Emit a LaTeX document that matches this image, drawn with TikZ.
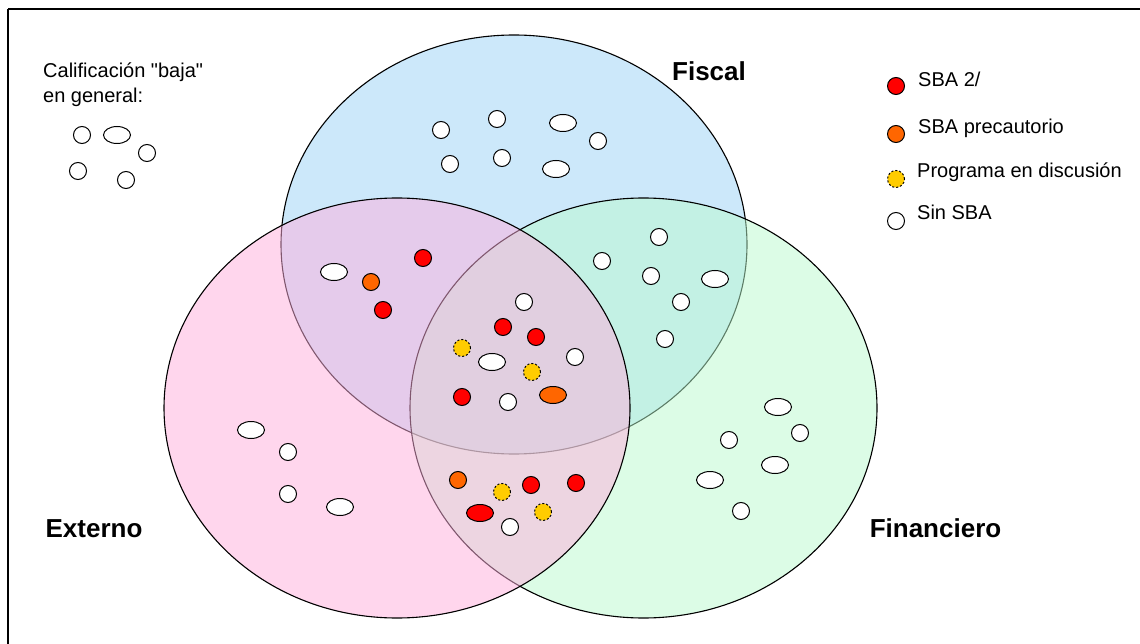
\documentclass[tikz,border=0pt]{standalone}
\usepackage{fontspec}
\setmainfont{Liberation Sans}[Ligatures=TeXOff]
\usetikzlibrary{shapes.geometric}
\definecolor{cblue}{RGB}{155,211,247}
\definecolor{cpink}{RGB}{255,175,221}
\definecolor{cgreen}{RGB}{187,251,207}
\definecolor{cred}{RGB}{255,0,0}
\definecolor{corange}{RGB}{255,102,0}
\definecolor{cyellow}{RGB}{255,204,0}
\tikzset{
  setfill/.style={fill opacity=0.5, draw=black, line width=1.1pt},
  dotbase/.style={ellipse, draw=black, line width=1pt, inner sep=0pt, minimum width=17pt, minimum height=17pt},
  wide/.style={minimum width=27pt},
  sinsba/.style={dotbase, fill=white},
  sbados/.style={dotbase, fill=cred},
  sbaprec/.style={dotbase, fill=corange},
  progdisc/.style={dotbase, fill=cyellow, dash pattern=on 2pt off 2pt},
  biglabel/.style={font=\fontsize{26}{30}\selectfont\bfseries, anchor=base, inner sep=0pt},
  smalllabel/.style={font=\fontsize{20}{24}\selectfont, anchor=base west, inner sep=0pt}
}
\begin{document}
\begin{tikzpicture}[x=1pt, y=-1pt]
\useasboundingbox (0,0) rectangle (1140,644);
\fill[white] (0,0) rectangle (1140,644);
% frame
\draw[line width=2pt] (8,9) -- (1140,9);
\draw[line width=1.8pt] (8,9) -- (8,644);
% sets
\path[setfill, fill=cblue] (514,244.5) ellipse [x radius=233pt, y radius=209.5pt];
\path[setfill, fill=cgreen] (643.5,408) ellipse [x radius=233.5pt, y radius=210pt];
\path[setfill, fill=cpink] (397,408) ellipse [x radius=233pt, y radius=210pt];
% labels
\node[biglabel] (lfiscal) at (709,81) {Fiscal};
\node[biglabel] (lexterno) at (94,537) {Externo};
\node[biglabel] (lfin) at (935.5,537) {Financiero};
\node[smalllabel] (lcal) at (43,78) {Calificación "baja"};
\node[smalllabel] (lgen) at (43,103) {en general:};
% legend
\node[sbados] (k1) at (896,86) {};
\node[sbaprec] (k2) at (896,134) {};
\node[progdisc] (k3) at (896,179) {};
\node[sinsba] (k4) at (896,221) {};
\node[smalllabel] (t1) at (918,87) {SBA 2/};
\node[smalllabel] (t2) at (918,134) {SBA precautorio};
\node[smalllabel] (t3) at (917,178) {Programa en discusión};
\node[smalllabel] (t4) at (917,220) {Sin SBA};
% outside cluster
\node[sinsba] (o1) at (82,135) {};
\node[sinsba, wide] (o2) at (117,135) {};
\node[sinsba] (o3) at (147,153) {};
\node[sinsba] (o4) at (78,171) {};
\node[sinsba] (o5) at (126,180) {};
% Fiscal only
\node[sinsba] (f1) at (441,130) {};
\node[sinsba] (f2) at (497,119) {};
\node[sinsba, wide] (f3) at (563,123) {};
\node[sinsba] (f4) at (598,141) {};
\node[sinsba] (f5) at (450,164) {};
\node[sinsba] (f6) at (502,158) {};
\node[sinsba, wide] (f7) at (556,169) {};
% Fiscal and Externo
\node[sinsba, wide] (fe1) at (334,272) {};
\node[sbados] (fe2) at (423,258) {};
\node[sbaprec] (fe3) at (371,282) {};
\node[sbados] (fe4) at (383,310) {};
% triple
\node[sinsba] (x1) at (524,302) {};
\node[sbados] (x2) at (503,327) {};
\node[sbados] (x3) at (536,337) {};
\node[progdisc] (x4) at (462,348) {};
\node[sinsba, wide] (x5) at (492,362) {};
\node[progdisc] (x6) at (532,372) {};
\node[sinsba] (x7) at (575,357) {};
\node[sbados] (x8) at (462,397) {};
\node[sinsba] (x9) at (508,402) {};
\node[sbaprec, wide] (x10) at (553,395) {};
% Externo and Financiero
\node[sbaprec] (ef1) at (458,480) {};
\node[progdisc] (ef2) at (502,492) {};
\node[sbados] (ef3) at (531,485) {};
\node[sbados] (ef4) at (576,483) {};
\node[sbados, wide] (ef5) at (480,513) {};
\node[progdisc] (ef6) at (543,512) {};
\node[sinsba] (ef7) at (510,527) {};
% Externo only
\node[sinsba, wide] (e1) at (251,430) {};
\node[sinsba] (e2) at (288,452) {};
\node[sinsba] (e3) at (288,494) {};
\node[sinsba, wide] (e4) at (340,507) {};
% Fiscal and Financiero
\node[sinsba] (ff1) at (659,237) {};
\node[sinsba] (ff2) at (602,261) {};
\node[sinsba] (ff3) at (651,276) {};
\node[sinsba, wide] (ff4) at (715,279) {};
\node[sinsba] (ff5) at (681,302) {};
\node[sinsba] (ff6) at (665,339) {};
% Financiero only
\node[sinsba, wide] (n1) at (778,407) {};
\node[sinsba] (n2) at (729,440) {};
\node[sinsba] (n3) at (800,433) {};
\node[sinsba, wide] (n4) at (775,465) {};
\node[sinsba, wide] (n5) at (710,480) {};
\node[sinsba] (n6) at (741,511) {};
\end{tikzpicture}
\end{document}
